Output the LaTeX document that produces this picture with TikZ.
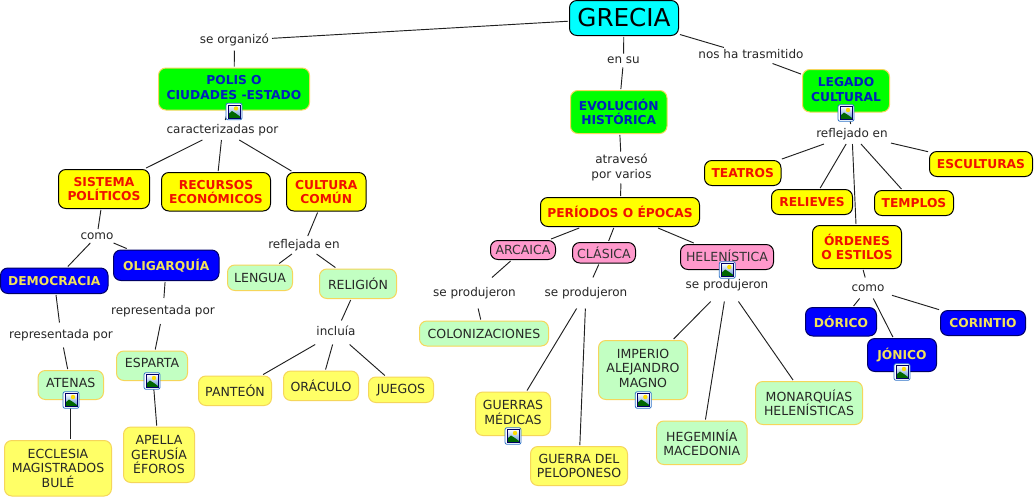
\documentclass[tikz,border=0pt]{standalone}
\usepackage{fontspec}
\setmainfont{DejaVu Sans}
\definecolor{lineC}{HTML}{202020}
\definecolor{gold}{HTML}{F5D65A}
\definecolor{txtBlue}{HTML}{0022BB}
\definecolor{txtYel}{HTML}{F2E25A}
\definecolor{txtRed}{HTML}{F01000}
\definecolor{paleG}{HTML}{C2FFC2}
\definecolor{paleY}{HTML}{FFFF66}
\definecolor{pinkF}{HTML}{FF99CC}
\definecolor{navyL}{HTML}{000066}
\definecolor{iconB}{HTML}{2F74C8}
\definecolor{cyanF}{HTML}{00FFFF}
\definecolor{yelF}{HTML}{FFFF00}
\definecolor{greenF}{HTML}{00FF00}
\definecolor{blueF}{HTML}{0000FF}
\newcommand\up[1]{\rule[-#1pt]{0pt}{0pt}}
\newcommand\cbox[7]{%
  \pgfmathsetmacro\cxx{(#3+#4)/2}\pgfmathsetmacro\cyy{(#5+#6)/2}%
  \pgfmathsetmacro\cww{(#4-#3)*0.75}\pgfmathsetmacro\chh{(#6-#5)*0.75}%
  \node[#1,minimum width=\cww pt,minimum height=\chh pt] (#2) at (\cxx,\cyy) {#7};}
\newcommand\lbl[6]{% name x y hpx minwidthpx text
  \pgfmathsetmacro\chh{#4*0.75}\pgfmathsetmacro\cww{#5*0.75}%
  \node[lab,minimum height=\chh pt,minimum width=\cww pt] (#1) at (#2,#3)
    {\rule{0pt}{.8em}#6\rule[-.25em]{0pt}{0pt}};}
\tikzset{
  concept/.style={rounded corners=5.5pt,align=center,inner sep=0pt,outer sep=1.1pt,line width=.75pt,font=\fontsize{9.4}{10.75}\selectfont},
  root/.style={concept,draw=black,fill=cyanF,font=\fontsize{18.5}{20}\selectfont},
  greenb/.style={concept,draw=gold,fill=greenF,text=txtBlue,font=\fontsize{9.2}{10.75}\selectfont\bfseries},
  yelb/.style={concept,draw=black,fill=yelF,text=txtRed,font=\fontsize{9.2}{10.75}\selectfont\bfseries},
  blueb/.style={concept,draw=navyL,fill=blueF,text=txtYel,font=\fontsize{9.2}{10.75}\selectfont\bfseries},
  paleg/.style={concept,draw=gold,fill=paleG,text=black!85},
  paley/.style={concept,draw=gold,fill=paleY,text=black!85},
  pinkb/.style={concept,draw=black,fill=pinkF,text=black!80},
  lab/.style={align=center,inner sep=0pt,outer sep=0pt,text=black!85,font=\fontsize{9}{10.9}\selectfont},
  link/.style={draw=lineC,line width=.7pt},
  imgicon/.pic={
    \draw[iconB,fill=white,line width=.6pt,rounded corners=1.5pt] (-8,-8.3) rectangle (8,8.3);
    \fill[top color=white,bottom color=iconB!80] (-6,-6.5) rectangle (6,6.5);
    \fill[yellow!80!orange] (2,-3) circle (2.2);
    \fill[green!40!black] (-6,6.5) -- (-6,3) -- (-2,-.5) -- (2,2) -- (6,5) -- (6,6.5) -- cycle;
    \draw[navyL,line width=.45pt] (-6,-6.5) rectangle (6,6.5);
  }
}
\begin{document}
\begin{tikzpicture}[x=.75pt,y=-.75pt]
\useasboundingbox (0,0) rectangle (1036,497);
\fill[white] (0,0) rectangle (1036,497);
% concepts
\cbox{root}{grecia}{569.5}{678.5}{0.5}{35.5}{GRECIA}
\cbox{greenb}{polis}{158.5}{309.5}{68}{110}{POLIS O\\CIUDADES -ESTADO\up{2.25}}
\cbox{greenb}{evol}{570.5}{667}{90.5}{133.5}{EVOLUCIÓN\\HISTÓRICA}
\cbox{greenb}{legado}{802.5}{889.5}{69.5}{112}{LEGADO\\CULTURAL\up{1.9}}
\cbox{yelb}{sistema}{58.5}{149.5}{169.5}{208.5}{SISTEMA\\POLÍTICOS}
\cbox{yelb}{recursos}{161.5}{270.5}{172.5}{211}{RECURSOS\\ECONÓMICOS}
\cbox{yelb}{cultura}{286.5}{366}{172.5}{211}{CULTURA\\COMÚN}
\cbox{yelb}{periodos}{540.5}{699.5}{197.5}{226.5}{PERÍODOS O ÉPOCAS}
\cbox{yelb}{teatros}{704.5}{781}{160.5}{185.5}{TEATROS}
\cbox{yelb}{relieves}{771.5}{852.5}{189.5}{214.5}{RELIEVES}
\cbox{yelb}{templos}{874.5}{953.5}{190.5}{215.5}{TEMPLOS}
\cbox{yelb}{esculturas}{929.5}{1032.5}{151.5}{176.5}{ESCULTURAS}
\cbox{yelb}{ordenes}{812.5}{901.5}{225.5}{268.5}{ÓRDENES\\O ESTILOS}
\cbox{blueb}{democracia}{0.5}{108}{268}{293.5}{DEMOCRACIA}
\cbox{blueb}{oligarquia}{113.5}{219}{250}{280.5}{OLIGARQUÍA}
\cbox{blueb}{dorico}{805.5}{876.5}{307.5}{336}{DÓRICO}
\cbox{blueb}{jonico}{867.5}{936.5}{338.5}{371.5}{JÓNICO\up{1.5}}
\cbox{blueb}{corintio}{940.5}{1025.5}{310.5}{335.5}{CORINTIO}
\cbox{paleg}{lengua}{227.5}{292.5}{265}{290.5}{LENGUA}
\cbox{paleg}{religion}{319.5}{396.5}{269}{298.5}{RELIGIÓN}
\cbox{paleg}{atenas}{38}{103.5}{370.5}{399.5}{ATENAS\up{3.5}}
\cbox{paleg}{esparta}{116.5}{187.5}{351}{380.5}{ESPARTA\up{3.75}}
\cbox{paleg}{colon}{419.5}{548.5}{321}{346}{COLONIZACIONES}
\cbox{paleg}{imperio}{598.5}{687.5}{340.5}{399.5}{IMPERIO\\ALEJANDRO\\MAGNO\up{2.7}}
\cbox{paleg}{hegem}{656.5}{747}{421}{464.5}{HEGEMINÍA\\MACEDONIA}
\cbox{paleg}{monarq}{755.5}{862.5}{381.5}{424.5}{MONARQUÍAS\\HELENÍSTICAS}
\cbox{paley}{panteon}{198.5}{271.5}{376}{405.5}{PANTEÓN}
\cbox{paley}{oraculo}{283.5}{358.5}{371}{400.5}{ORÁCULO}
\cbox{paley}{juegos}{368.5}{433.5}{377}{402.5}{JUEGOS}
\cbox{paley}{ecclesia}{4.5}{111.5}{440.5}{496}{ECCLESIA\\MAGISTRADOS\\BULÉ}
\cbox{paley}{apella}{123.5}{194.5}{427}{482.5}{APELLA\\GERUSÍA\\ÉFOROS}
\cbox{paley}{guerras}{475.5}{550.5}{392}{435.5}{GUERRAS\\MÉDICAS\up{2}}
\cbox{paley}{pelop}{530.5}{627.5}{446.5}{485.5}{GUERRA DEL\\PELOPONESO}
\cbox{pinkb}{arcaica}{490.5}{555.5}{240.5}{259.5}{ARCAICA}
\cbox{pinkb}{clasica}{572.5}{635.5}{242.5}{263}{CLÁSICA}
\cbox{pinkb}{helen}{680.5}{773.5}{244.5}{269.5}{HELENÍSTICA\up{1.5}}
% link labels: name, x, y, box height, box width
\lbl{lorg}{234.5}{40.5}{20}{75}{se organizó}
\lbl{lensu}{623.5}{60.5}{14}{44}{en su}
\lbl{lnos}{751}{55.5}{16}{112}{nos ha trasmitido}
\lbl{lcar}{222.5}{130}{20}{118}{caracterizadas por}
\lbl{latr}{621.5}{167.5}{32}{66}{atravesó\\por varios}
\lbl{lref}{852}{134}{20}{78}{reflejado en}
\lbl{lcomo}{97}{236}{14}{40}{como}
\lbl{lrefa}{304}{245}{18}{78}{reflejada en}
\lbl{lrep}{61}{335}{25}{108}{representada por}
\lbl{lrepb}{163}{311}{26}{108}{representada por}
\lbl{linc}{336}{332.5}{24}{44}{incluía}
\lbl{lpa}{474.5}{293}{31}{90}{se produjeron}
\lbl{lpb}{586}{293}{31}{90}{se produjeron}
\lbl{lpc}{727}{285}{33}{90}{se produjeron}
\lbl{lcomob}{868}{288}{21}{48}{como}
% connectors
\foreach \a/\b in {grecia/lorg,lorg/polis,grecia/lensu,lensu/evol,grecia/lnos,lnos/legado,
  polis/lcar,lcar/sistema,lcar/recursos,lcar/cultura,
  sistema/lcomo,lcomo/democracia,lcomo/oligarquia,
  democracia/lrep,lrep/atenas,oligarquia/lrepb,lrepb/esparta,esparta/apella,
  cultura/lrefa,lrefa/lengua,lrefa/religion,religion/linc,linc/panteon,linc/oraculo,linc/juegos,
  evol/latr,latr/periodos,periodos/arcaica,periodos/clasica,periodos/helen,
  arcaica/lpa,lpa/colon,clasica/lpb,lpb/guerras,lpb/pelop,
  helen/lpc,lpc/imperio,lpc/hegem,lpc/monarq,
  legado/lref,lref/teatros,lref/relieves,lref/templos,lref/esculturas,lref/ordenes,
  ordenes/lcomob,lcomob/dorico,lcomob/jonico,lcomob/corintio}
  {\draw[link] (\a) -- (\b);}
\draw[link] (atenas.south) -- (atenas.south |- ecclesia.north);
% image icons
\foreach \p in {(234,111.5),(71,400),(152,381),(513,436),(643.3,400),(727.3,270),(846,113),(902,372)}
  \pic at \p {imgicon};
\end{tikzpicture}
\end{document}
